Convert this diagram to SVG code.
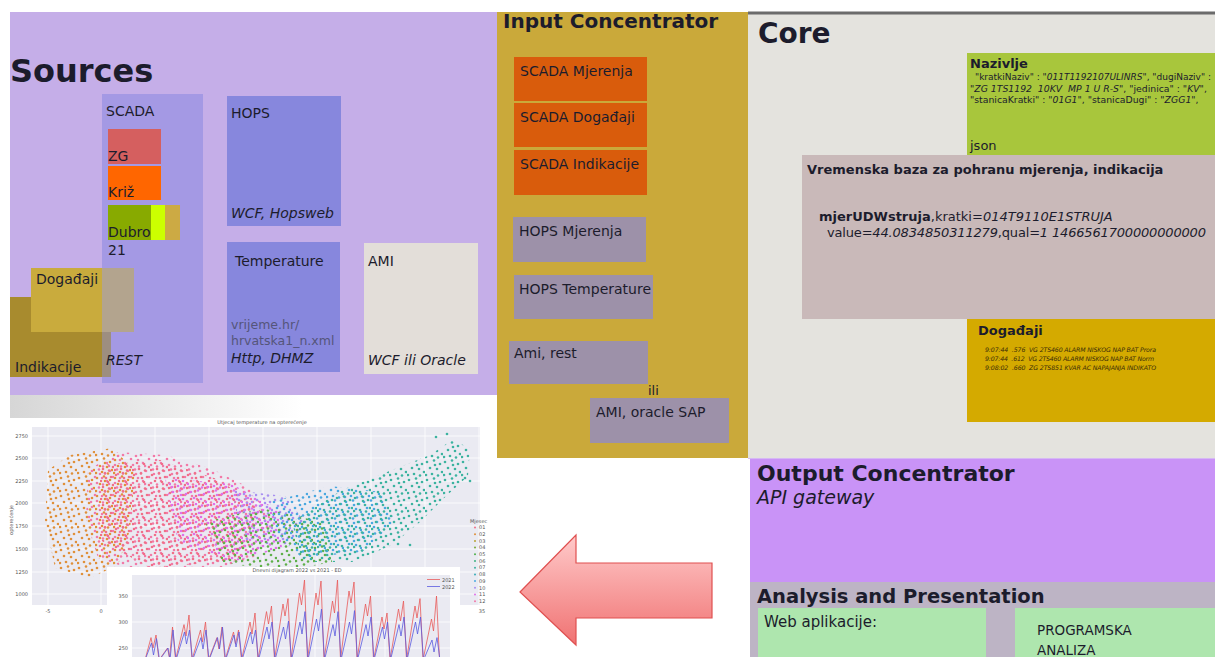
<svg xmlns="http://www.w3.org/2000/svg" width="1215" height="657" viewBox="0 0 1215 657">
<style>
.t{font-family:"DejaVu Sans","Liberation Sans",sans-serif;fill:#1c1c2c}
.b{font-weight:bold}
.i{font-style:italic}
.s14{font-size:14px}
.box{stroke:none}
.ct{font-family:"DejaVu Sans","Liberation Sans",sans-serif;fill:#555;font-size:5px}
.grid{stroke:#ffffff;stroke-width:0.8}
</style>
<defs>
<g id="dots"><circle cx="2" cy="3" r="1.3"/><circle cx="9" cy="1.5" r="1.3"/><circle cx="15" cy="5" r="1.3"/><circle cx="5" cy="9" r="1.3"/><circle cx="12" cy="10" r="1.3"/><circle cx="17" cy="13" r="1.3"/><circle cx="7" cy="15" r="1.3"/><circle cx="1" cy="16" r="1.3"/><circle cx="13" cy="16.5" r="1.3"/><circle cx="10" cy="6" r="1.3"/></g>
<pattern id="pPink" patternUnits="userSpaceOnUse" width="18" height="18"><use href="#dots" fill="#f27aa8"/></pattern>
<pattern id="pRed" patternUnits="userSpaceOnUse" width="18" height="18" patternTransform="translate(6,4)"><use href="#dots" fill="#f07088"/></pattern>
<pattern id="pOrange" patternUnits="userSpaceOnUse" width="18" height="18" patternTransform="translate(5,7)"><use href="#dots" fill="#e0903a"/></pattern>
<pattern id="pMag" patternUnits="userSpaceOnUse" width="18" height="18" patternTransform="translate(9,3)"><use href="#dots" fill="#e070e8"/></pattern>
<pattern id="pLilac" patternUnits="userSpaceOnUse" width="18" height="18" patternTransform="translate(3,11)"><use href="#dots" fill="#a890f0"/></pattern>
<pattern id="pGreen" patternUnits="userSpaceOnUse" width="18" height="18" patternTransform="translate(7,5)"><use href="#dots" fill="#5fb04a"/></pattern>
<pattern id="pTeal" patternUnits="userSpaceOnUse" width="18" height="18" patternTransform="translate(11,9)"><use href="#dots" fill="#3cb3a0"/></pattern>
<pattern id="pCyan" patternUnits="userSpaceOnUse" width="18" height="18" patternTransform="translate(2,13)"><use href="#dots" fill="#4aa8e0"/></pattern>
<linearGradient id="fade" x1="0" y1="0" x2="1" y2="0"><stop offset="0" stop-color="#d6d6d6"/><stop offset="0.6" stop-color="#ffffff"/></linearGradient>
<linearGradient id="arrowGrad" x1="0" y1="0" x2="0" y2="1"><stop offset="0" stop-color="#ffcaca"/><stop offset="1" stop-color="#f07272"/></linearGradient>
<clipPath id="clip1"><rect x="32" y="427" width="448" height="178"/></clipPath>
<clipPath id="clip2"><rect x="132" y="575" width="318" height="82"/></clipPath>
</defs>

<rect x="0" y="0" width="1215" height="657" fill="#ffffff"/>

<g id="sources">
<rect x="10" y="12" width="487" height="383" fill="#c5aee8"/>
<text class="t b" x="10" y="82" font-size="32">Sources</text>
</g>

<g id="scada">
<rect x="102" y="94" width="101" height="289" fill="#a499e4"/>
<text class="t s14" x="106" y="116">SCADA</text>
</g>
<g id="zg">
<rect x="108" y="129" width="53" height="35" fill="#d55f5f"/>
<text class="t s14" x="108" y="161">ZG</text>
</g>
<g id="kriz">
<rect x="108" y="166" width="53" height="34" fill="#ff6600"/>
<text class="t s14" x="108" y="197">Križ</text>
</g>
<g id="dubro">
<rect x="108" y="205" width="43" height="35" fill="#88aa00"/>
<rect x="151" y="205" width="14" height="35" fill="#ccff00"/>
<rect x="165" y="205" width="15" height="35" fill="#ccaa44"/>
<text class="t s14" x="108" y="237">Dubro</text>
<text class="t s14" x="108" y="255">21</text>
</g>
<g id="indikacije">
<rect x="10" y="297" width="92" height="80" fill="#a88b2e"/>
<rect x="102" y="297" width="9" height="80" fill="#9d8e80"/>
<text class="t s14" x="15" y="372">Indikacije</text>
</g>
<g id="dogadaji-src">
<rect x="31" y="268" width="71" height="64" fill="#c9ab3d"/>
<rect x="102" y="268" width="32" height="64" fill="#b3a48e"/>
<text class="t s14" x="36" y="284">Događaji</text>
</g>
<g id="rest">
<text class="t i s14" x="106" y="365">REST</text>
</g>
<g id="hops">
<rect x="227" y="96" width="114" height="130" fill="#8787dd"/>
<text class="t s14" x="231" y="118">HOPS</text>
<text class="t i s14" x="231" y="218">WCF, Hopsweb</text>
</g>
<g id="temperature">
<rect x="227" y="242" width="113" height="130" fill="#8787dd"/>
<text class="t s14" x="235" y="266">Temperature</text>
<text class="t" x="231" y="329" font-size="12.5" style="fill:#55557a">vrijeme.hr/</text>
<text class="t" x="231" y="345" font-size="12.5" style="fill:#55557a">hrvatska1_n.xml</text>
<text class="t i s14" x="231" y="363">Http, DHMZ</text>
</g>
<g id="ami">
<rect x="364" y="243" width="114" height="131" fill="#e3ded9"/>
<text class="t s14" x="368" y="266">AMI</text>
<text class="t i s14" x="368" y="365">WCF ili Oracle</text>
</g>

<g id="input-concentrator">
<rect x="497" y="12" width="251" height="446" fill="#caa93a"/>
<text class="t b" x="503" y="28" font-size="20">Input Concentrator</text>
</g>
<g id="scada-mjerenja">
<rect x="514" y="57" width="133" height="44" fill="#d95c0c"/>
<text class="t s14" x="520" y="76">SCADA Mjerenja</text>
</g>
<g id="scada-dogadaji">
<rect x="514" y="103" width="133" height="44" fill="#d95c0c"/>
<text class="t s14" x="520" y="122">SCADA Događaji</text>
</g>
<g id="scada-indikacije">
<rect x="514" y="150" width="133" height="45" fill="#d95c0c"/>
<text class="t s14" x="520" y="169">SCADA Indikacije</text>
</g>
<g id="hops-mjerenja">
<rect x="513" y="217" width="133" height="45" fill="#9d91a9"/>
<text class="t s14" x="519" y="236">HOPS Mjerenja</text>
</g>
<g id="hops-temperature">
<rect x="514" y="275" width="139" height="44" fill="#9d91a9"/>
<text class="t s14" x="519" y="294">HOPS Temperature</text>
</g>
<g id="ami-rest">
<rect x="509" y="341" width="139" height="43" fill="#9d91a9"/>
<text class="t s14" x="514" y="358">Ami, rest</text>
</g>
<g id="ili">
<text class="t" x="648" y="395" font-size="13">ili</text>
</g>
<g id="ami-oracle">
<rect x="590" y="398" width="139" height="45" fill="#9d91a9"/>
<text class="t s14" x="596" y="417">AMI, oracle SAP</text>
</g>

<g id="core">
<rect x="748" y="12" width="467" height="446" fill="#e4e3de"/>
<line x1="748" y1="13" x2="1215" y2="13" stroke="#6b6b6b" stroke-width="3"/>
<line x1="748" y1="458.5" x2="1215" y2="458.5" stroke="#d6b8f4" stroke-width="1"/>
<text class="t b" x="758" y="43" font-size="28">Core</text>
</g>
<g id="nazivlje">
<rect x="967" y="53" width="248" height="102" fill="#a8c63c"/>
<text class="t b" x="970" y="68" font-size="13">Nazivlje</text>
<text class="t" x="975" y="80" font-size="9" textLength="236" lengthAdjust="spacingAndGlyphs"> "kratkiNaziv" : <tspan class="i">"011T1192107ULINRS"</tspan>, "dugiNaziv" :</text>
<text class="t" x="970" y="92" font-size="9.3"><tspan class="i">"ZG 1TS1192 &#160;10KV &#160;MP 1 U R-S"</tspan>, "jedinica" : <tspan class="i">"KV"</tspan>,</text>
<text class="t" x="970" y="103" font-size="9.3">"stanicaKratki" : <tspan class="i">"01G1"</tspan>, "stanicaDugi" : <tspan class="i">"ZGG1"</tspan>,</text>
<text class="t" x="970" y="150" font-size="13">json</text>
</g>
<g id="vremenska-baza">
<rect x="802" y="155" width="413" height="164" fill="#c9b9b9"/>
<text class="t b" x="807" y="174" font-size="13">Vremenska baza za pohranu mjerenja, indikacija</text>
<text class="t" x="819" y="221" font-size="13"><tspan class="b">mjerUDWstruja</tspan>,kratki=<tspan class="i">014T9110E1STRUJA</tspan></text>
<text class="t" x="827" y="237" font-size="13" textLength="379">value=<tspan class="i">44.0834850311279</tspan>,qual=<tspan class="i">1 1466561700000000000</tspan></text>
</g>
<g id="dogadaji-core">
<rect x="967" y="319" width="248" height="103" fill="#d4aa00"/>
<text class="t b" x="978" y="335" font-size="13">Događaji</text>
<text class="t i" x="985" y="352" font-size="6.2" textLength="171" style="fill:#3a2c08">9:07:44 &#160;.576 &#160;VG 2TS460 ALARM NISKOG NAP BAT Prora</text>
<text class="t i" x="985" y="361" font-size="6.2" textLength="169" style="fill:#3a2c08">9:07:44 &#160;.612 &#160;VG 2TS460 ALARM NISKOG NAP BAT Norm</text>
<text class="t i" x="985" y="370" font-size="6.2" textLength="171" style="fill:#3a2c08">9:08:02 &#160;.660 &#160;ZG 2TS851 KVAR AC NAPAJANJA INDIKATO</text>
</g>

<g id="output-concentrator">
<rect x="750" y="459" width="465" height="123" fill="#c993f7"/>
<text class="t b" x="757" y="481" font-size="22">Output Concentrator</text>
<text class="t i" x="757" y="504" font-size="19">API gateway</text>
</g>
<g id="analysis">
<rect x="750" y="582" width="465" height="75" fill="#bdb4c5"/>
<text class="t b" x="757" y="603" font-size="19.5">Analysis and Presentation</text>
</g>
<g id="web-aplikacije">
<rect x="758" y="608" width="228" height="49" fill="#aee6ae"/>
<text class="t" x="764" y="627" font-size="15">Web aplikacije:</text>
</g>
<g id="programska-analiza">
<rect x="1015" y="608" width="200" height="49" fill="#aee6ae"/>
<text class="t" x="1037" y="635" font-size="13.5">PROGRAMSKA</text>
<text class="t" x="1037" y="655" font-size="13.5">ANALIZA</text>
</g>

<g id="charts">
<rect x="10" y="395" width="487" height="23" fill="url(#fade)"/>
<rect x="10" y="418" width="487" height="239" fill="#ffffff"/>
<rect x="32" y="427" width="448" height="178" fill="#eaeaf2"/>
<g class="grid">
<line x1="48" y1="427" x2="48" y2="605"/><line x1="101" y1="427" x2="101" y2="605"/><line x1="155" y1="427" x2="155" y2="605"/><line x1="209" y1="427" x2="209" y2="605"/><line x1="263" y1="427" x2="263" y2="605"/><line x1="317" y1="427" x2="317" y2="605"/><line x1="371" y1="427" x2="371" y2="605"/><line x1="425" y1="427" x2="425" y2="605"/><line x1="479" y1="427" x2="479" y2="605"/>
<line x1="32" y1="436" x2="480" y2="436"/><line x1="32" y1="458" x2="480" y2="458"/><line x1="32" y1="481" x2="480" y2="481"/><line x1="32" y1="503" x2="480" y2="503"/><line x1="32" y1="526" x2="480" y2="526"/><line x1="32" y1="549" x2="480" y2="549"/><line x1="32" y1="572" x2="480" y2="572"/><line x1="32" y1="594" x2="480" y2="594"/>
</g>
<text class="ct" x="262" y="424" text-anchor="middle" font-size="6">Utjecaj temperature na opterećenje</text>
<g class="ct" text-anchor="end">
<text x="28" y="438">2750</text><text x="28" y="460">2500</text><text x="28" y="483">2250</text><text x="28" y="505">2000</text><text x="28" y="528">1750</text><text x="28" y="551">1500</text><text x="28" y="574">1250</text><text x="28" y="596">1000</text>
</g>
<g class="ct" text-anchor="middle">
<text x="48" y="613">-5</text><text x="101" y="613">0</text><text x="482" y="613">35</text>
</g>
<text class="ct" transform="translate(13,520) rotate(-90)" text-anchor="middle">opterećenje</text>
<g clip-path="url(#clip1)">
<polygon points="45,520 48,470 70,455 112,448 135,470 130,530 118,565 90,578 55,568" fill="url(#pOrange)"/>
<polygon points="88,470 118,452 165,455 210,468 250,488 272,520 255,560 200,572 140,572 98,558 86,520" fill="url(#pPink)"/>
<polygon points="100,465 160,460 220,480 260,510 240,560 150,568 100,540" fill="url(#pRed)"/>
<polygon points="165,478 232,484 278,510 282,548 232,562 178,542" fill="url(#pMag)"/>
<polygon points="232,490 285,496 305,522 288,548 242,540" fill="url(#pLilac)"/>
<polygon points="205,522 262,508 322,522 332,562 282,572 222,562" fill="url(#pGreen)"/>
<polygon points="270,502 330,486 382,492 395,522 362,552 302,558 276,532" fill="url(#pCyan)"/>
<polygon points="292,522 342,490 392,470 430,455 452,440 470,448 468,476 442,500 420,522 392,545 352,562 302,562" fill="url(#pTeal)"/>
<g fill="#3cb3a0"><circle cx="436" cy="437" r="1.3"/><circle cx="447" cy="434" r="1.3"/><circle cx="465" cy="478" r="1.3"/><circle cx="470" cy="481" r="1.3"/><circle cx="410" cy="545" r="1.3"/><circle cx="398" cy="544" r="1.3"/></g>
</g>
<g class="ct" font-size="4.5">
<text x="470" y="523">Mjesec</text>
<circle cx="475" cy="527.5" r="1" fill="#f07088"/><text x="479" y="529">01</text>
<circle cx="475" cy="534.2" r="1" fill="#e0903a"/><text x="479" y="536">02</text>
<circle cx="475" cy="540.9" r="1" fill="#b8a030"/><text x="479" y="542.6">03</text>
<circle cx="475" cy="547.6" r="1" fill="#7aaa38"/><text x="479" y="549.3">04</text>
<circle cx="475" cy="554.3" r="1" fill="#4fb04a"/><text x="479" y="556">05</text>
<circle cx="475" cy="561" r="1" fill="#3cb080"/><text x="479" y="562.7">06</text>
<circle cx="475" cy="567.7" r="1" fill="#3cb3a0"/><text x="479" y="569.4">07</text>
<circle cx="475" cy="574.4" r="1" fill="#3aadb8"/><text x="479" y="576.1">08</text>
<circle cx="475" cy="581.1" r="1" fill="#4aa8e0"/><text x="479" y="582.8">09</text>
<circle cx="475" cy="587.8" r="1" fill="#a890f0"/><text x="479" y="589.5">10</text>
<circle cx="475" cy="594.5" r="1" fill="#e070e8"/><text x="479" y="596.2">11</text>
<circle cx="475" cy="601.2" r="1" fill="#f27aa8"/><text x="479" y="602.9">12</text>
</g>

<rect x="107" y="567" width="353" height="90" fill="#ffffff"/>
<rect x="132" y="575" width="318" height="82" fill="#eaeaf2"/>
<g class="grid">
<line x1="132" y1="596" x2="450" y2="596"/><line x1="132" y1="622" x2="450" y2="622"/><line x1="132" y1="648" x2="450" y2="648"/>
<line x1="175" y1="575" x2="175" y2="657"/><line x1="245" y1="575" x2="245" y2="657"/><line x1="315" y1="575" x2="315" y2="657"/><line x1="385" y1="575" x2="385" y2="657"/>
</g>
<text class="ct" x="297" y="572" text-anchor="middle" font-size="7">Dnevni dijagram 2022 vs 2021 - ED</text>
<g class="ct" text-anchor="end" font-size="5.5">
<text x="128" y="598">350</text><text x="128" y="624">300</text><text x="128" y="650">250</text>
</g>
<g clip-path="url(#clip2)" fill="none" stroke-width="1" stroke-linejoin="round">
<path stroke="#e85a5a" stroke-opacity="0.8" d="M145,660 L151,637.6 L153,648 L156,635 L159,660 L167.5,648 L169.5,658 L172.5,627 L175.5,660 L184,624.6 L186,636 L189,615 L192,660 L200.5,630 L202.5,642 L205.5,622 L208.5,660 L217,637.6 L219,649 L222,627 L225,660 L233.5,632 L235.5,644 L238.5,630 L241.5,660 L250,622 L252,634 L255,613 L258,660 L266.5,611.6 L268.5,624 L271.5,606 L274.5,660 L283,604 L285,616 L288,598.6 L291,660 L299.5,593 L301.5,605 L304.5,580 L307.5,660 L316,593 L318,605 L321,581 L324,660 L332.5,601 L334.5,613 L337.5,580 L340.5,660 L349,591 L351,603 L354,582 L357,660 L365.5,604 L367.5,616 L370.5,596 L373.5,660 L382,617 L384,629 L387,613 L390,660 L398.5,609 L400.5,621 L403.5,601 L406.5,660 L415,606 L417,618 L420,598.6 L423,660 L431.5,619 L433.5,631 L436.5,596 L439.5,660"/>
<path stroke="#5a5ae0" stroke-opacity="0.8" d="M145,660 L151.5,643 L153.5,655 L156.5,638.6 L159.5,660 L168,648 L170,660 L173,630 L176,660 L184.5,632 L186.5,644 L189.5,630 L192.5,660 L201,637.6 L203,649 L206,630 L209,660 L217.5,637.6 L219.5,649 L222.5,627 L225.5,660 L234,635 L236,647 L239,632 L242,660 L250.5,632 L252.5,644 L255.5,630 L258.5,660 L267,627 L269,639 L272,622 L275,660 L283.5,627 L285.5,639 L288.5,621 L291.5,660 L300,622 L302,634 L305,611.6 L308,660 L316.5,619 L318.5,631 L321.5,609 L324.5,660 L333,624.6 L335,636 L338,611.6 L341,660 L349.5,622 L351.5,634 L354.5,610.6 L357.5,660 L366,624.6 L368,636 L371,617 L374,660 L382.5,627 L384.5,639 L387.5,622 L390.5,660 L399,624.6 L401,636 L404,617 L407,660 L415.5,622 L417.5,634 L420.5,617 L423.5,660 L432,640 L434,652 L437,637.6 L440,660"/>
</g>
<line x1="427" y1="579.5" x2="440" y2="579.5" stroke="#e85a5a" stroke-width="0.8"/>
<text class="ct" x="442" y="581.5">2021</text>
<line x1="427" y1="586.5" x2="440" y2="586.5" stroke="#5a5ae0" stroke-width="0.8"/>
<text class="ct" x="442" y="588.5">2022</text>
</g>

<g id="connectors">
<polygon points="520,592 576,535 576,563 712,563 712,618 576,618 576,645" fill="url(#arrowGrad)" stroke="#e05050" stroke-width="1.2" stroke-linejoin="miter"/>
</g>
</svg>
